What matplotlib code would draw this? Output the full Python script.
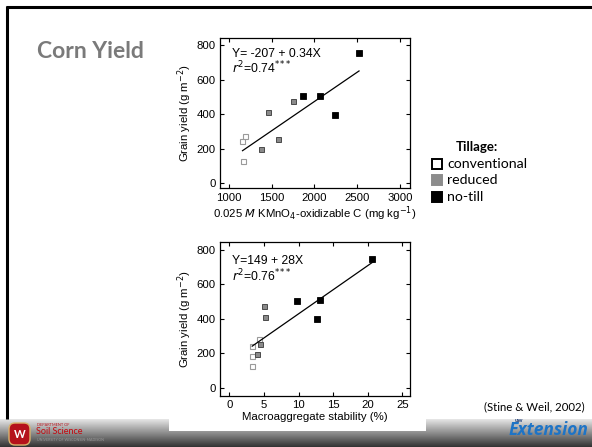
import numpy as np
import matplotlib
matplotlib.use("Agg")
from matplotlib import pyplot as plt
from matplotlib.patches import Rectangle, FancyBboxPatch

# --- data ---
# top panel: KMnO4-oxidizable C (mg/kg) vs grain yield (g/m2)
c_conv = [1157, 1192, 1164]
y_conv_c = [246, 273, 128]
c_red = [1376, 1463, 1579, 1747]
y_red_c = [198, 409, 256, 473]
c_nt = [1866, 2069, 2238, 2525]
y_nt_c = [506, 502, 397, 754]
c_fit = [1160, 2520]
fit_c = (-207, 0.34)

# bottom panel: macroaggregate stability (%) vs grain yield
m_conv = [3.29, 3.29, 3.29, 4.25]
y_conv_m = [244, 185, 127, 283]
m_red = [4.06, 4.4, 5.01, 5.2]
y_red_m = [195, 256, 474, 409]
m_nt = [9.83, 13.04, 12.7, 20.6]
y_nt_m = [501, 507, 400, 747]
m_fit = [3.3, 20.8]
fit_m = (149, 28)

c_ticks = [1000, 1500, 2000, 2500, 3000]
m_ticks = [0, 5, 10, 15, 20, 25]
y_ticks = [0, 200, 400, 600, 800]

W, H = 592, 447
fig = plt.figure(figsize=(W / 100, H / 100), dpi=100)
fig.patch.set_facecolor("white")

# slide background in pixel coords
bg = fig.add_axes([0, 0, 1, 1], zorder=0)
bg.set_xlim(0, W)
bg.set_ylim(H, 0)
bg.axis("off")

grad = np.linspace(0.9, 0.2, 60).reshape(-1, 1)
bg.imshow(grad, cmap="gray", vmin=0, vmax=1, aspect="auto",
          extent=[0, W, H, 419], zorder=1)
bg.add_patch(Rectangle((169, 400), 257, 31, facecolor="white", edgecolor="none", zorder=2))
# black frame lines
bg.plot([6, W], [7, 7], color="black", lw=2.2, zorder=3, solid_capstyle="butt")
bg.plot([7, 7], [6, 419], color="black", lw=2.2, zorder=3, solid_capstyle="butt")

sfont = ["Lato", "DejaVu Sans"]
bg.text(37, 52, "Corn Yield", fontsize=16.5, fontweight="bold", color="#7a7a7a",
        family=sfont, va="center", ha="left")

# legend
bg.text(456, 147, "Tillage:", fontsize=9.5, fontweight="bold", family=sfont,
        va="center", ha="left")
leg = [("conventional", "white", "black"), ("reduced", "#8c8c8c", "#8c8c8c"),
       ("no-till", "black", "black")]
for i, (lab, fc, ec) in enumerate(leg):
    yy = 164 + i * 16.3
    bg.plot(437, yy, "s", ms=6.5, mfc=fc, mec=ec, mew=1.4, zorder=4)
    bg.text(447, yy, lab, fontsize=10.2, family=sfont, va="center", ha="left")

bg.text(585, 407, "(Stine & Weil, 2002)", fontsize=8.2, family=sfont, va="center", ha="right")

# logos (rough)
bg.add_patch(FancyBboxPatch((9, 423), 21, 22, boxstyle="round,pad=0,rounding_size=6",
                            facecolor="#b5121b", edgecolor="#d9b36c", lw=1, zorder=4))
bg.text(19.5, 435, "W", color="white", fontsize=8, fontweight="bold", ha="center",
        va="center", family=sfont, zorder=5)
bg.text(37, 424.5, "DEPARTMENT OF", fontsize=2.8, color="#b5121b", family=sfont,
        va="center", zorder=5)
bg.text(36, 432, "Soil Science", fontsize=6.5, color="#c5050c", family=sfont,
        va="center", zorder=5)
bg.text(37, 440, "UNIVERSITY OF WISCONSIN-MADISON", fontsize=2.6, color="#999999",
        family=sfont, va="center", zorder=5)
bg.text(588, 430, "Extension", fontsize=12.5, color="#1e74c6", fontweight="bold",
        fontstyle="italic", family=["Open Sans", "DejaVu Sans"], ha="right",
        va="center", zorder=5)
bg.text(519, 420, "uw", fontsize=4.5, color="#1e3f7a", fontweight="bold",
        family=sfont, ha="center", va="center", zorder=5)

# --- chart panels ---
pfont = ["Liberation Sans", "DejaVu Sans"]
plt.rcParams["font.family"] = pfont
fs = 8.2


def style_panel(ax, xticks, yticks):
    ax.set_xticks(xticks)
    ax.set_yticks(yticks)
    ax.tick_params(direction="in", length=3, width=0.8, top=True, right=True,
                   labelsize=fs, pad=3, labeltop=False, labelright=False)
    for s in ax.spines.values():
        s.set_linewidth(0.9)
    ax.set_ylabel("Grain yield (g m$^{-2}$)", fontsize=fs, labelpad=2)


def draw_points(ax, xs, ys):
    xc, xr, xn = xs
    yc, yr, yn = ys
    ax.plot(xc, yc, "s", ms=3.6, mfc="white", mec="#9a9a9a", mew=0.8, ls="none")
    ax.plot(xr, yr, "s", ms=3.6, mfc="#8a8a8a", mec="#4a4a4a", mew=0.7, ls="none")
    ax.plot(xn, yn, "s", ms=3.8, mfc="black", mec="black", mew=0.6, ls="none")


stars = "$^{*\\!*\\!*}$"

ax1 = fig.add_axes([220 / W, 1 - 188.5 / H, 190 / W, 150.5 / H], zorder=5)
draw_points(ax1, [c_conv, c_red, c_nt], [y_conv_c, y_red_c, y_nt_c])
xf = np.array(c_fit)
ax1.plot(xf, fit_c[0] + fit_c[1] * xf, color="black", lw=0.9)
ax1.set_xlim(897, 3115)
ax1.set_ylim(-32, 841)
style_panel(ax1, c_ticks, y_ticks)
ax1.set_xlabel("0.025 $\\it{M}$ KMnO$_4$-oxidizable C (mg kg$^{-1}$)", fontsize=fs, labelpad=1.5)
ax1.text(0.065, 0.875, "Y= -207 + 0.34X", transform=ax1.transAxes, fontsize=8.8)
ax1.text(0.065, 0.765, "$r^2$=0.74" + stars, transform=ax1.transAxes, fontsize=8.8)

ax2 = fig.add_axes([220 / W, 1 - 396 / H, 190 / W, 154 / H], zorder=5)
draw_points(ax2, [m_conv, m_red, m_nt], [y_conv_m, y_red_m, y_nt_m])
xf = np.array(m_fit)
ax2.plot(xf, fit_m[0] + fit_m[1] * xf, color="black", lw=0.9)
ax2.set_xlim(-1.35, 26.1)
ax2.set_ylim(-48, 846)
style_panel(ax2, m_ticks, y_ticks)
ax2.set_xlabel("Macroaggregate stability (%)", fontsize=fs, labelpad=1.5)
ax2.text(0.065, 0.855, "Y=149 + 28X", transform=ax2.transAxes, fontsize=8.8)
ax2.text(0.065, 0.745, "$r^2$=0.76" + stars, transform=ax2.transAxes, fontsize=8.8)

fig.savefig("out.png", dpi=100)
